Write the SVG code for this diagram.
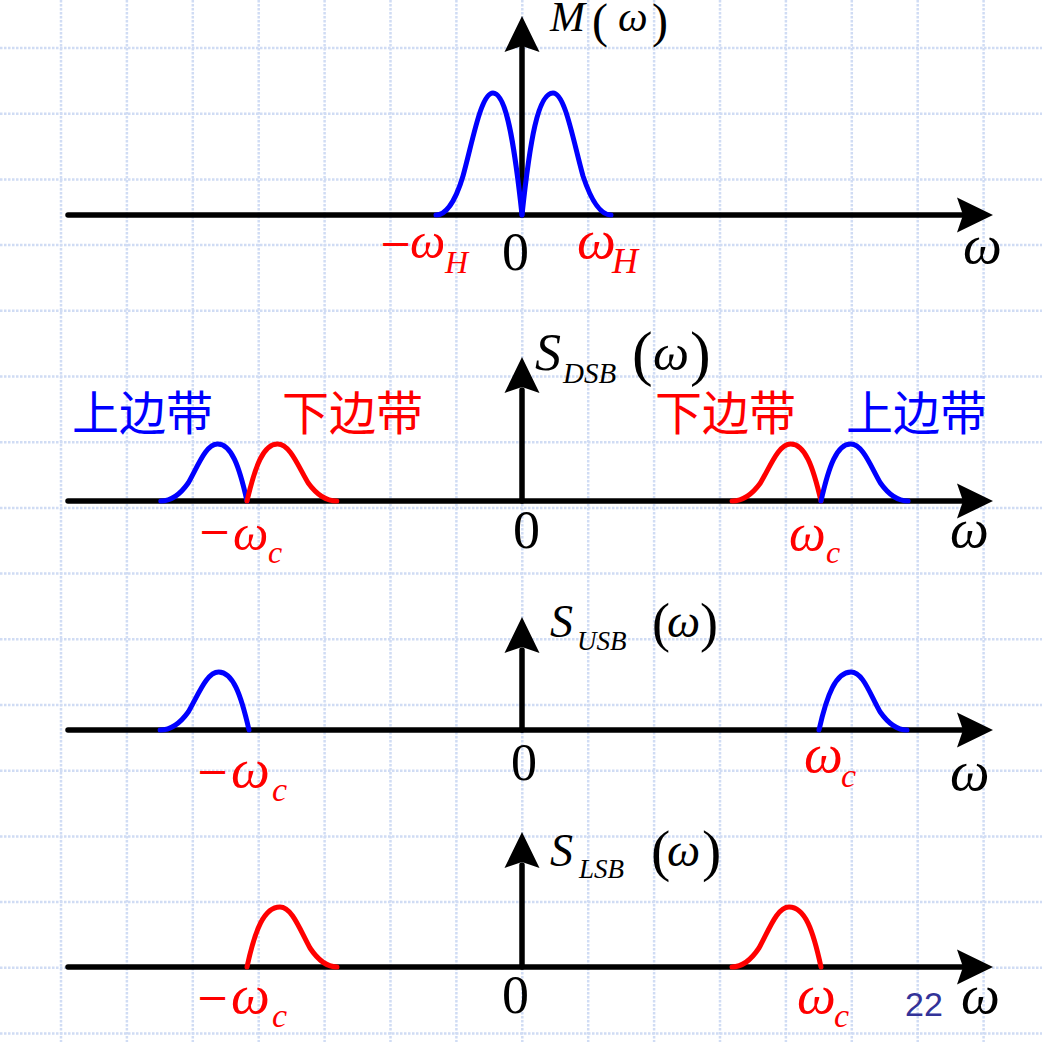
<svg xmlns="http://www.w3.org/2000/svg" xmlns:xlink="http://www.w3.org/1999/xlink" width="1042" height="1042" viewBox="0 0 1042 1042">
<style>
.grid line{stroke:#d0dcf4;stroke-width:2.5;stroke-dasharray:2.5 1.5}
.ax{stroke:#000;stroke-width:5.5;fill:none;stroke-linecap:round}
.ah{fill:#000}
.b{stroke:#0000ff;stroke-width:5;fill:none;stroke-linecap:round;stroke-linejoin:round}
.r{stroke:#ff0000;stroke-width:5;fill:none;stroke-linecap:round;stroke-linejoin:round}
text{font-family:"Liberation Serif","Times New Roman",serif;fill:#000}
.i{font-style:italic}
.red{fill:#ff0000}
.mn{font-family:"DejaVu Serif","Liberation Serif",serif;font-size:40px;fill:#ff0000}
.cb{font-family:"Noto Sans CJK SC",sans-serif;font-size:47px;fill:#0000ff}
.cr{font-family:"Noto Sans CJK SC",sans-serif;font-size:47px;fill:#ff0000}
.pg{font-family:"Liberation Sans",Arial,sans-serif;font-size:34px;fill:#333399}
</style>
<defs>
<path id="arr" d="M0,0 L-36,-17.5 L-30,0 L-36,17.5 Z"/>
</defs>
<rect width="1042" height="1042" fill="#ffffff"/>
<g id="grid" class="grid">
<line x1="61" y1="0" x2="61" y2="1042"/>
<line x1="126.9" y1="0" x2="126.9" y2="1042"/>
<line x1="192.8" y1="0" x2="192.8" y2="1042"/>
<line x1="258.7" y1="0" x2="258.7" y2="1042"/>
<line x1="324.6" y1="0" x2="324.6" y2="1042"/>
<line x1="390.5" y1="0" x2="390.5" y2="1042"/>
<line x1="456.4" y1="0" x2="456.4" y2="1042"/>
<line x1="522.3" y1="0" x2="522.3" y2="1042"/>
<line x1="588.2" y1="0" x2="588.2" y2="1042"/>
<line x1="654.1" y1="0" x2="654.1" y2="1042"/>
<line x1="720" y1="0" x2="720" y2="1042"/>
<line x1="785.9" y1="0" x2="785.9" y2="1042"/>
<line x1="851.8" y1="0" x2="851.8" y2="1042"/>
<line x1="917.7" y1="0" x2="917.7" y2="1042"/>
<line x1="983.6" y1="0" x2="983.6" y2="1042"/>
<line x1="0" y1="48" x2="1042" y2="48"/>
<line x1="0" y1="113.7" x2="1042" y2="113.7"/>
<line x1="0" y1="179.4" x2="1042" y2="179.4"/>
<line x1="0" y1="245.1" x2="1042" y2="245.1"/>
<line x1="0" y1="310.8" x2="1042" y2="310.8"/>
<line x1="0" y1="376.5" x2="1042" y2="376.5"/>
<line x1="0" y1="442.2" x2="1042" y2="442.2"/>
<line x1="0" y1="507.9" x2="1042" y2="507.9"/>
<line x1="0" y1="573.6" x2="1042" y2="573.6"/>
<line x1="0" y1="639.3" x2="1042" y2="639.3"/>
<line x1="0" y1="705" x2="1042" y2="705"/>
<line x1="0" y1="770.7" x2="1042" y2="770.7"/>
<line x1="0" y1="836.4" x2="1042" y2="836.4"/>
<line x1="0" y1="902.1" x2="1042" y2="902.1"/>
<line x1="0" y1="967.8" x2="1042" y2="967.8"/>
<line x1="0" y1="1033.5" x2="1042" y2="1033.5"/>
</g>

<g id="panel-M">
<g id="axes-M">
<line class="ax" x1="68" y1="215" x2="965" y2="215"/>
<use href="#arr" class="ah" transform="translate(993,215)"/>
<line class="ax" x1="522" y1="215" x2="522" y2="48"/>
<use href="#arr" class="ah" transform="translate(522,16) rotate(-90)"/>
</g>
<g id="curves-M">
<path class="b" d="M522,215 C530,140 538,93 553,93 C565,93 573,140 583,176 C593,206 603,215 611,215"/>
<path class="b" d="M522,215 C514,140 506,93 493,93 C481,93 473,140 463,176 C454,206 444,215 436,215"/>
</g>
<g id="labels-M">
<text class="i" x="550" y="31" font-size="42">M</text>
<text x="592" y="37" font-size="48">(</text>
<text class="i" x="618" y="31" font-size="42">ω</text>
<text x="652" y="37" font-size="48">)</text>
<text class="mn" x="379" y="257">−</text>
<text class="red i" x="410" y="258" font-size="50">ω</text>
<text class="red i" x="445" y="273" font-size="32">H</text>
<text x="502" y="270" font-size="54">0</text>
<text class="red i" x="577" y="258" font-size="55">ω</text>
<text class="red i" x="612" y="273" font-size="36">H</text>
<text class="i" x="963" y="263" font-size="55">ω</text>
</g>
</g>

<g id="panel-DSB">
<g id="axes-DSB">
<line class="ax" x1="68" y1="501" x2="965" y2="501"/>
<use href="#arr" class="ah" transform="translate(993,501)"/>
<line class="ax" x1="522" y1="501" x2="522" y2="390"/>
<use href="#arr" class="ah" transform="translate(522,357) rotate(-90)"/>
</g>
<g id="curves-DSB">
<path class="b" d="M247,501 C239.2,466 231.3,444 217.6,444 C205.8,444 198,466 188.2,483 C178.4,497 168.6,501 160.8,501"/>
<path class="r" d="M247,501 C255.2,466 263.3,444 277.6,444 C289.8,444 298,466 308.2,483 C318.4,497 328.6,501 336.8,501"/>
<path class="r" d="M821,501 C812.9,466 804.8,444 790.7,444 C778.6,444 770.5,466 760.4,483 C750.3,497 740.2,501 732.1,501"/>
<path class="b" d="M821,501 C828.9,466 836.8,444 850.7,444 C862.6,444 870.5,466 880.4,483 C890.3,497 900.2,501 908.1,501"/>
</g>
<g id="labels-DSB">
<text class="i" x="535" y="370" font-size="52">S</text>
<text class="i" x="563" y="383" font-size="29">DSB</text>
<text x="632" y="374" font-size="62">(</text>
<text class="i" x="653" y="370" font-size="51">ω</text>
<text x="690" y="374" font-size="62">)</text>
<text class="cb" x="72" y="430">上边带</text>
<text class="cr" x="282" y="430">下边带</text>
<text class="cr" x="655" y="430">下边带</text>
<text class="cb" x="846" y="430">上边带</text>
<text class="mn" x="198" y="545">−</text>
<text class="red i" x="233" y="550" font-size="50">ω</text>
<text class="red i" x="268" y="563" font-size="32">c</text>
<text x="513" y="548" font-size="54">0</text>
<text class="red i" x="789" y="550" font-size="52">ω</text>
<text class="red i" x="826" y="563" font-size="32">c</text>
<text class="i" x="950" y="547" font-size="55">ω</text>
</g>
</g>

<g id="panel-USB">
<g id="axes-USB">
<line class="ax" x1="68" y1="730" x2="965" y2="730"/>
<use href="#arr" class="ah" transform="translate(993,730)"/>
<line class="ax" x1="522" y1="730" x2="522" y2="650"/>
<use href="#arr" class="ah" transform="translate(522,617) rotate(-90)"/>
</g>
<g id="curves-USB">
<path class="b" d="M249,730 C240.9,694.4 232.8,672 218.7,672 C206.6,672 198.5,694.4 188.4,711.7 C178.3,725.9 168.2,730 160.1,730"/>
<path class="b" d="M819,730 C827,694.4 836,672 851,672 C863,672 870,694.4 880,711.7 C890,725.9 899,730 907,730"/>
</g>
<g id="labels-USB">
<text class="i" x="550" y="637" font-size="46">S</text>
<text class="i" x="577" y="650" font-size="27">USB</text>
<text x="652" y="641" font-size="54">(</text>
<text class="i" x="667" y="637" font-size="47">ω</text>
<text x="700" y="641" font-size="54">)</text>
<text class="mn" x="196" y="785">−</text>
<text class="red i" x="231" y="787" font-size="55">ω</text>
<text class="red i" x="272" y="801" font-size="34">c</text>
<text x="511" y="780" font-size="52">0</text>
<text class="red i" x="804" y="772" font-size="55">ω</text>
<text class="red i" x="841" y="787" font-size="34">c</text>
<text class="i" x="950" y="790" font-size="56">ω</text>
</g>
</g>

<g id="panel-LSB">
<g id="axes-LSB">
<line class="ax" x1="68" y1="967" x2="965" y2="967"/>
<use href="#arr" class="ah" transform="translate(993,967)"/>
<line class="ax" x1="522" y1="967" x2="522" y2="865"/>
<use href="#arr" class="ah" transform="translate(522,832) rotate(-90)"/>
</g>
<g id="curves-LSB">
<path class="r" d="M247,967 C255,930 264,907 280,907 C292,907 300,930 310,948 C320,963 329,967 337,967"/>
<path class="r" d="M821,967 C813,930 805,907 789,907 C777,907 769,930 759,948 C749,963 740,967 732,967"/>
</g>
<g id="labels-LSB">
<text class="i" x="550" y="866" font-size="46">S</text>
<text class="i" x="579" y="878" font-size="27">LSB</text>
<text x="651" y="870" font-size="58">(</text>
<text class="i" x="667" y="866" font-size="47">ω</text>
<text x="702" y="870" font-size="58">)</text>
<text class="mn" x="196" y="1011">−</text>
<text class="red i" x="231" y="1013" font-size="55">ω</text>
<text class="red i" x="272" y="1027" font-size="34">c</text>
<text x="502" y="1013" font-size="54">0</text>
<text class="red i" x="797" y="1013" font-size="55">ω</text>
<text class="red i" x="834" y="1027" font-size="34">c</text>
<text class="i" x="961" y="1013" font-size="55">ω</text>
<text class="pg" x="905" y="1016">22</text>
</g>
</g>
</svg>
